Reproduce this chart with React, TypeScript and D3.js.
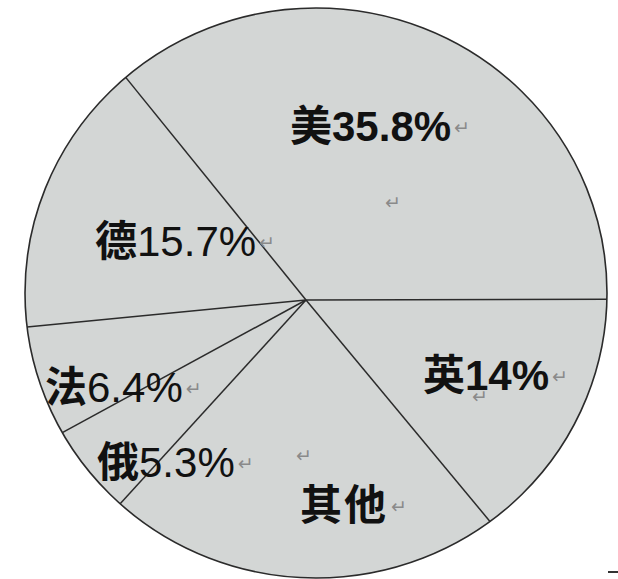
import { useEffect, useRef } from 'react';
import * as d3 from 'd3';

// 各国所占比例（%）
const categories = ['美', '英', '其他', '俄', '法', '德'];
const shares = [35.8, 14, 22.8, 5.3, 6.4, 15.7];
const shareLabels = ['35.8%', '14%', '', '5.3%', '6.4%', '15.7%'];
const boldDigits = [true, true, true, false, false, false];

// label anchors (left x, baseline y) — same order as categories
const labelAnchors: [number, number][] = [
  [290, 141], [423, 390], [300, 520], [97, 477], [45, 402], [95, 256],
];
// stray paragraph marks left in the scanned figure
const strayMarks: [number, number][] = [[385, 209], [296, 462], [472, 403]];

export default function App() {
  const svgRef = useRef<SVGSVGElement>(null);

  useEffect(() => {
    const svg = d3.select(svgRef.current);
    svg.selectAll('*').remove();

    const W = 618, H = 579;
    svg.attr('width', W).attr('height', H).attr('viewBox', `0 0 ${W} ${H}`);

    svg.append('rect').attr('width', W).attr('height', H).attr('fill', '#fff');

    // the drawn circle is a little squashed and the spokes meet off-centre
    const cx = 316, cy = 293, rx = 291, ry = 285;
    const hub = { x: 306, y: 300 };

    svg.append('ellipse')
      .attr('cx', cx).attr('cy', cy).attr('rx', rx).attr('ry', ry)
      .attr('fill', '#d3d6d5').attr('stroke', '#2b2b2b').attr('stroke-width', 1.6);

    const start = (-39 * Math.PI) / 180;
    const pie = d3.pie<number>().sort(null).value(d => d)
      .startAngle(start).endAngle(start + 2 * Math.PI);
    const arcs = pie(shares);

    // point where a ray from the hub at angle a meets the ellipse
    const rim = (a: number) => {
      const dx = Math.sin(a), dy = -Math.cos(a);
      const ox = hub.x - cx, oy = hub.y - cy;
      const A = (dx * dx) / (rx * rx) + (dy * dy) / (ry * ry);
      const B = 2 * ((ox * dx) / (rx * rx) + (oy * dy) / (ry * ry));
      const C = (ox * ox) / (rx * rx) + (oy * oy) / (ry * ry) - 1;
      const t = (-B + Math.sqrt(B * B - 4 * A * C)) / (2 * A);
      return [hub.x + t * dx, hub.y + t * dy];
    };

    arcs.forEach(a => {
      const [x, y] = rim(a.startAngle);
      svg.append('line')
        .attr('x1', hub.x).attr('y1', hub.y).attr('x2', x).attr('y2', y)
        .attr('stroke', '#2b2b2b').attr('stroke-width', 1.5);
    });

    const font = "'Liberation Sans', Arial, 'Noto Sans CJK SC', sans-serif";

    categories.forEach((c, i) => {
      const [x, y] = labelAnchors[i];
      const t = svg.append('text').attr('x', x).attr('y', y)
        .attr('font-family', font).attr('font-size', 42).attr('fill', '#111');
      t.append('tspan').attr('font-weight', 700)
        .attr('letter-spacing', c.length > 1 ? 2 : 0).text(c);
      if (shareLabels[i]) {
        t.append('tspan').attr('font-weight', boldDigits[i] ? 700 : 400).text(shareLabels[i]);
      }
      t.append('tspan').attr('font-family', 'DejaVu Sans').attr('font-size', 19)
        .attr('fill', '#8a8a8a').attr('dx', 3).attr('dy', -7).text('↵');
    });

    strayMarks.forEach(([x, y]) => {
      svg.append('text').attr('x', x).attr('y', y)
        .attr('font-family', 'DejaVu Sans').attr('font-size', 19).attr('fill', '#8a8a8a')
        .text('↵');
    });

    // small dash at the bottom right edge
    svg.append('line').attr('x1', 608).attr('x2', 618).attr('y1', 572).attr('y2', 572)
      .attr('stroke', '#333').attr('stroke-width', 2);
  }, []);

  return <svg ref={svgRef} style={{ position: 'fixed', left: 0, top: 0 }} />;
}
